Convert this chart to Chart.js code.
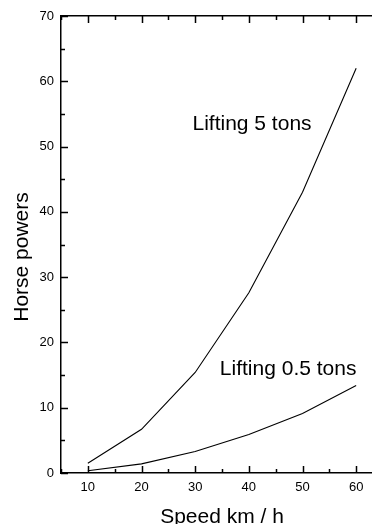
<!DOCTYPE html>
<html>
<head>
<meta charset="utf-8">
<script src="https://cdn.jsdelivr.net/npm/chart.js@4/dist/chart.umd.min.js"></script>
<style>
  html, body { margin: 0; padding: 0; background: #fff; overflow: hidden; }
  #wrap { width: 384px; height: 524px; position: relative; }
</style>
</head>
<body>
<div id="wrap"><canvas id="myChart"></canvas></div>
<script>
// speed (km/h) and horse powers
var speeds = [10, 20, 30, 40, 50, 60];
var lift5 = [1.5, 6.7, 15.4, 27.6, 43.0, 62.0];
var lift05 = [0.35, 1.4, 3.3, 5.9, 9.1, 13.4];
var xTicks = [10, 20, 30, 40, 50, 60];
var yTicks = [0, 10, 20, 30, 40, 50, 60, 70];

var FONT = '"Liberation Sans", Arial, sans-serif';

// inward tick marks, labels and axis titles
var extras = {
  id: "extras",
  afterDraw: function (chart) {
    var c = chart.ctx, a = chart.chartArea;
    var x = chart.scales.x, y = chart.scales.y;
    c.save();
    c.strokeStyle = "#000";
    c.lineWidth = 1.5;
    c.beginPath();
    for (var v = 5; v <= 65; v += 5) {
      var px = Math.round(x.getPixelForValue(v)) + 0.5;
      var len = v % 10 === 0 ? 7 : 4;
      c.moveTo(px, a.bottom); c.lineTo(px, a.bottom - len);
      c.moveTo(px, a.top); c.lineTo(px, a.top + len);
    }
    for (var w = 0; w <= 70; w += 5) {
      var py = Math.round(y.getPixelForValue(w)) + 0.5;
      var l2 = w % 10 === 0 ? 7 : 4;
      c.moveTo(a.left, py); c.lineTo(a.left + l2, py);
    }
    c.stroke();

    c.fillStyle = "#000";
    c.font = "21px " + FONT;
    c.textBaseline = "alphabetic";
    c.textAlign = "left";
    c.fillText("Lifting 5 tons", x.getPixelForValue(29.5), y.getPixelForValue(52.5));
    c.fillText("Lifting 0.5 tons", x.getPixelForValue(34.6), y.getPixelForValue(15.0));

    c.textAlign = "center";
    c.fillText("Speed km / h", (a.left + a.right) / 2, 523);

    c.translate(28, 257);
    c.rotate(-Math.PI / 2);
    c.fillText("Horse powers", 0, 0);
    c.restore();
  }
};

var ctx = document.getElementById("myChart").getContext("2d");
var myChart = new Chart(ctx, {
  type: "line",
  data: {
    datasets: [
      {
        label: "Lifting 5 tons",
        data: speeds.map(function (s, i) { return { x: s, y: lift5[i] }; }),
        borderColor: "#000",
        borderWidth: 1.1,
        pointRadius: 0,
        tension: 0,
        fill: false
      },
      {
        label: "Lifting 0.5 tons",
        data: speeds.map(function (s, i) { return { x: s, y: lift05[i] }; }),
        borderColor: "#000",
        borderWidth: 1.1,
        pointRadius: 0,
        tension: 0,
        fill: false
      }
    ]
  },
  options: {
    responsive: true,
    maintainAspectRatio: false,
    animation: false,
    layout: { padding: { top: 16, right: 1, left: 0, bottom: 0 } },
    plugins: { legend: { display: false }, tooltip: { enabled: false } },
    scales: {
      x: {
        type: "linear",
        min: 5,
        max: 65,
        afterFit: function (s) { s.height = 51; },
        afterBuildTicks: function (s) { s.ticks = xTicks.map(function (v) { return { value: v }; }); },
        grid: { display: false, drawTicks: false },
        border: { display: true, color: "#000", width: 1.5 },
        ticks: { color: "#000", font: { family: FONT, size: 13 }, padding: 7, maxRotation: 0 }
      },
      y: {
        type: "linear",
        min: 0,
        max: 70,
        afterFit: function (s) { s.width = 61; },
        afterBuildTicks: function (s) { s.ticks = yTicks.map(function (v) { return { value: v }; }); },
        grid: { display: false, drawTicks: false },
        border: { display: true, color: "#000", width: 1.5 },
        ticks: { color: "#000", font: { family: FONT, size: 13 }, padding: 7 }
      },
      top: {
        type: "linear",
        position: "top",
        min: 5,
        max: 65,
        afterFit: function (s) { s.height = 0; },
        grid: { display: false, drawTicks: false },
        border: { display: true, color: "#000", width: 1.5 },
        ticks: { display: false }
      }
    }
  },
  plugins: [extras]
});
</script>
</body>
</html>
